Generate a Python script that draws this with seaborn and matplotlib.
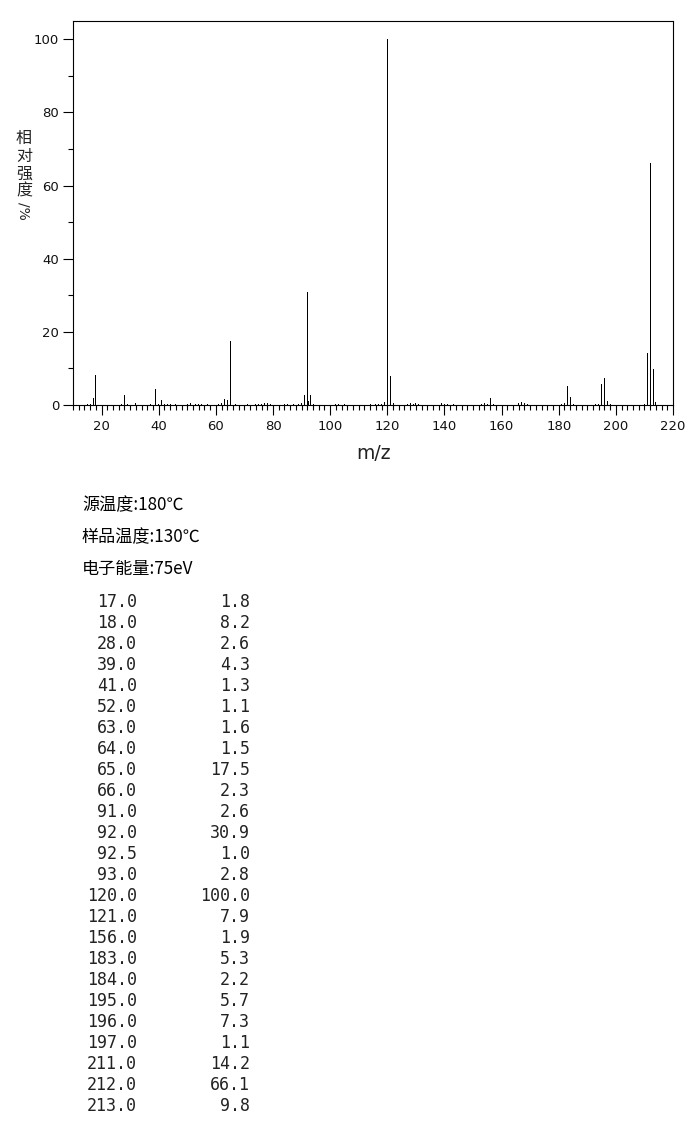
import matplotlib
matplotlib.use("Agg")
import matplotlib.pyplot as plt
import seaborn as sns
import pandas as pd
from matplotlib.ticker import MultipleLocator

# ---- data: listed peaks (table) ----
table_mz = [17.0, 18.0, 28.0, 39.0, 41.0, 52.0, 63.0, 64.0, 65.0, 66.0, 91.0, 92.0,
            92.5, 93.0, 120.0, 121.0, 156.0, 183.0, 184.0, 195.0, 196.0, 197.0,
            211.0, 212.0, 213.0]
table_int = [1.8, 8.2, 2.6, 4.3, 1.3, 1.1, 1.6, 1.5, 17.5, 2.3, 2.6, 30.9,
             1.0, 2.8, 100.0, 7.9, 1.9, 5.3, 2.2, 5.7, 7.3, 1.1,
             14.2, 66.1, 9.8]

# ---- data: small unlisted peaks ----
minor_mz = [15, 16, 27, 29, 32, 37, 38, 40, 42, 43, 44, 46, 50, 51, 53, 54, 55, 57,
            61, 62, 67, 71, 74, 75, 76, 77, 78, 79, 84, 85, 87, 89, 90, 94,
            102, 103, 105, 114, 116, 117, 118, 119, 122, 127, 128, 129, 130, 131,
            139, 140, 141, 143, 153, 154, 155, 157, 166, 167, 168, 169,
            181, 182, 185, 193, 194, 198, 210, 214]
minor_int = [0.3, 0.3, 0.3, 0.3, 0.5, 0.3, 0.9, 0.3, 0.4, 0.3, 0.3, 0.3, 0.4, 0.5, 0.3, 0.3, 0.3, 0.3,
             0.3, 0.5, 0.3, 0.4, 0.3, 0.3, 0.3, 0.5, 0.5, 0.3, 0.3, 0.3, 0.3, 0.3, 0.6, 0.4,
             0.3, 0.3, 0.4, 0.3, 0.3, 0.3, 0.3, 0.8, 0.5, 0.3, 0.5, 0.3, 0.5, 0.3,
             0.5, 0.3, 0.3, 0.3, 0.3, 0.5, 0.3, 0.3, 0.5, 0.7, 0.5, 0.3,
             0.3, 0.6, 0.3, 0.3, 0.3, 0.3, 0.3, 0.8]

header_lines = ["源温度:180℃", "样品温度:130℃", "电子能量:75eV"]
x_label = "m/z"
y_label_chars = "相对强度"
y_label_tail = "/%"

W, H = 687, 1134
sns.set_theme(style="ticks")
plt.rcParams['font.family'] = ['DejaVu Sans', 'Noto Sans CJK SC']

fig = plt.figure(figsize=(W / 100, H / 100), dpi=100)

def fx(px):
    return px / W

def fy(py):
    return 1 - py / H

ax = fig.add_axes([fx(73), fy(405), fx(673) - fx(73), fy(21) - fy(405)])

df = pd.DataFrame({"mz": table_mz + minor_mz, "inten": table_int + minor_int})
sns.barplot(data=df, x="mz", y="inten", native_scale=True, width=0.7,
            color="black", linewidth=0, errorbar=None, ax=ax, saturation=1)
for p in ax.patches:
    p.set_antialiased(False)
    p.set_facecolor("black")

ax.set_xlim(10, 220)
ax.set_ylim(0, 105)
ax.xaxis.set_major_locator(MultipleLocator(20))
ax.xaxis.set_minor_locator(MultipleLocator(2))
ax.yaxis.set_major_locator(MultipleLocator(20))
ax.yaxis.set_minor_locator(MultipleLocator(10))
ax.tick_params(axis="both", which="major", direction="out", length=7, width=0.8,
               color="black", labelsize=9.5, labelcolor="#111111")
ax.tick_params(axis="x", which="minor", direction="out", length=3.5, width=0.8, color="black")
ax.tick_params(axis="y", which="minor", direction="out", length=3.5, width=0.8, color="black")
ax.tick_params(axis="x", which="major", pad=4)
ax.tick_params(axis="y", which="major", pad=3)
for s in ax.spines.values():
    s.set_visible(True)
    s.set_linewidth(0.8)
    s.set_color("black")
ax.set_xlabel("")
ax.set_ylabel("")
ax.grid(False)

# axis labels
fig.text(fx(373), fy(453), x_label, ha="center", va="center", fontsize=13.5,
         family=["DejaVu Sans"], color="#222222")
fig.text(fx(24), fy(165), "\n".join(y_label_chars), ha="center", va="center",
         fontsize=11.5, family=["Noto Sans CJK SC", "DejaVu Sans"], linespacing=1.05,
         color="#222222")
fig.text(fx(24), fy(211), y_label_tail, ha="center", va="center", rotation=-90,
         fontsize=10, family=["DejaVu Sans"], color="#222222")

# header lines
for i, line in enumerate(header_lines):
    fig.text(fx(82), fy(505 + 32 * i), line, ha="left", va="center", fontsize=12.3,
             family=["Noto Sans CJK SC", "DejaVu Sans"], color="black")

# table
for i, (m, v) in enumerate(zip(table_mz, table_int)):
    y = fy(602 + 21 * i)
    fig.text(fx(137), y, f"{m:.1f}", ha="right", va="center", fontsize=12,
             family=["DejaVu Sans Mono"], color="#222222")
    fig.text(fx(250), y, f"{v:.1f}", ha="right", va="center", fontsize=12,
             family=["DejaVu Sans Mono"], color="#222222")

fig.savefig("out.png", dpi=100)
